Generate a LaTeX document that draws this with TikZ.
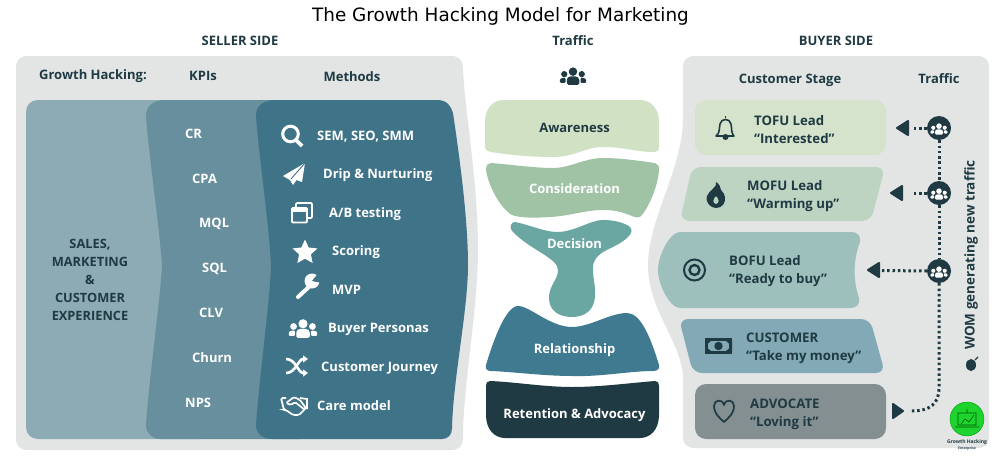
\documentclass[tikz,border=0pt]{standalone}
\usepackage{fontspec}
\setmainfont{Open Sans}
\newfontfamily\titlefont{DejaVu Sans}
\usetikzlibrary{arrows.meta,shapes.geometric}
\definecolor{ink}{HTML}{1F3A42}
\definecolor{panel}{HTML}{E3E5E5}
\definecolor{sa}{HTML}{8DABB5}
\definecolor{sb}{HTML}{678F9D}
\definecolor{sc}{HTML}{3F7388}
\definecolor{fa}{HTML}{D0E1C4}
\definecolor{fb}{HTML}{A0C3A6}
\definecolor{fc}{HTML}{6AA6A2}
\definecolor{fd}{HTML}{3F7A90}
\definecolor{fe}{HTML}{1F3A42}
\definecolor{ra}{HTML}{D5E3CC}
\definecolor{rb}{HTML}{BDD4C3}
\definecolor{rc}{HTML}{9EC0BC}
\definecolor{rd}{HTML}{82A9B5}
\definecolor{re}{HTML}{848F92}
\definecolor{logog}{HTML}{1DD32E}
\tikzset{
  hd/.style={font=\bfseries\fontsize{13}{15}\selectfont,text=ink,inner sep=0pt},
  wl/.style={font=\bfseries\fontsize{13}{15}\selectfont,text=white,inner sep=0pt,anchor=west},
  dl/.style={font=\bfseries\fontsize{13.2}{18}\selectfont,text=ink,inner sep=0pt,anchor=west,align=left},
  ctr/.style={font=\bfseries\fontsize{13}{15}\selectfont,inner sep=0pt},
  tc/.style={circle,fill=ink,minimum size=24pt,inner sep=0pt},
  dots/.style={ink,line width=3pt,dash pattern=on 2.5pt off 2.8pt},
  tri/.style={fill=ink,draw=ink,line width=2pt,line join=round},
}
% people icon: centre x,y ; scale ; colour
\newcommand\peopleico[4]{\begin{scope}[shift={(#1,#2)},scale=#3]
\fill[#4] (0,-3.5) circle (3.4);
\fill[#4] (-7,-1.5) circle (2.5);
\fill[#4] (7,-1.5) circle (2.5);
\fill[#4,rounded corners=1.5] (-5,7) -- (-5,2) -- (-3,0.3) -- (3,0.3) -- (5,2) -- (5,7) -- cycle;
\fill[#4,rounded corners=1] (-10.5,5.5) -- (-10.5,2.5) -- (-8.5,1.5) -- (-6,1.5) -- (-6,5.5) -- cycle;
\fill[#4,rounded corners=1] (10.5,5.5) -- (10.5,2.5) -- (8.5,1.5) -- (6,1.5) -- (6,5.5) -- cycle;
\end{scope}}
\begin{document}
\begin{tikzpicture}[x=1pt,y=-1pt]
\useasboundingbox (0,0) rectangle (1005,464);
\fill[white] (0,0) rectangle (1005,464);
\node[font=\titlefont\fontsize{18.4}{20}\selectfont,text=black,inner sep=0pt] (title) at (500.5,16) {The Growth Hacking Model for Marketing};
\node[hd] (sellerhd) at (240,41) {SELLER SIDE};
\node[hd] (traffichd) at (573,41) {Traffic};
\node[hd] (buyerhd) at (836,41) {BUYER SIDE};
% seller panel
\fill[panel] (28,56) -- (451,56) .. controls (459,56) and (463,60) .. (463,68) .. controls (464,105) and (478,180) .. (478,250) .. controls (478,310) and (463,385) .. (463,438) .. controls (463,446) and (459,450) .. (451,450) -- (28,450) .. controls (20,450) and (16,446) .. (16,438) -- (16,68) .. controls (16,60) and (20,56) .. (28,56) -- cycle;
\fill[sa] (38,100) -- (200,100) -- (200,439) -- (38,439) .. controls (31,439) and (26,434) .. (26,427) -- (26,112) .. controls (26,105) and (31,100) .. (38,100) -- cycle;
\fill[sb] (165,100) -- (300,100) -- (300,439) -- (160,439) .. controls (152,439) and (146,433) .. (146,425) .. controls (148,390) and (160,300) .. (162,267) .. controls (160,230) and (148,150) .. (146,115) .. controls (146,106) and (154,100) .. (165,100) -- cycle;
\fill[sc] (275,100) -- (437,100) .. controls (447,100) and (451,106) .. (453,113) .. controls (460,160) and (468,220) .. (468,265) .. controls (468,310) and (453,380) .. (452,428) .. controls (452,435) and (448,439) .. (442,439) -- (272,439) .. controls (262,439) and (256,433) .. (256,425) .. controls (258,390) and (270,300) .. (271,267) .. controls (270,230) and (258,150) .. (256,115) .. controls (256,106) and (264,100) .. (275,100) -- cycle;
\node[hd] (gh) at (93,76.5) {Growth Hacking:};
\node[hd] (kpis) at (203,75.5) {KPIs};
\node[hd] (methods) at (352,76.5) {Methods};
\node[hd,align=center,font=\bfseries\fontsize{12.8}{18}\selectfont] (sales) at (90,279.5) {SALES,\\MARKETING\\\&\\CUSTOMER\\EXPERIENCE};
\node[wl] (k1) at (185,134) {CR};
\node[wl] (k2) at (192,179) {CPA};
\node[wl] (k3) at (199,224) {MQL};
\node[wl] (k4) at (202,269) {SQL};
\node[wl] (k5) at (199,313) {CLV};
\node[wl] (k6) at (192,358) {Churn};
\node[wl] (k7) at (185,403) {NPS};
\node[wl] (m1) at (317,137) {SEM, SEO, SMM};
\node[wl] (m2) at (323,175) {Drip \& Nurturing};
\node[wl] (m3) at (329,214) {A/B testing};
\node[wl] (m4) at (332,252) {Scoring};
\node[wl] (m5) at (332,290) {MVP};
\node[wl] (m6) at (328,329) {Buyer Personas};
\node[wl] (m7) at (321,368) {Customer Journey};
\node[wl] (m8) at (317,406) {Care model};
% seller icons
\draw[white,line width=3pt] (290.5,134) circle (7.8);
\draw[white,line width=3.6pt] (296,140) -- (302,146);
\fill[white] (305,163) -- (283,176) -- (290,180) -- (293,185) -- (296.5,180) -- (302,182) -- cycle;
\draw[sc,line width=.9pt] (305,163) -- (291,179);
\draw[white,line width=1.6pt,rounded corners=1] (296,203) rectangle (312,218);
\fill[sc] (291,207) rectangle (307,223.5);
\draw[white,line width=1.8pt,rounded corners=1] (292,208) rectangle (307,222.5);
\fill[white] (292,208) rectangle (307,212);
\node[star,star points=5,star point ratio=2.1,fill=white,minimum size=26pt,inner sep=0pt] (staric) at (305,252.5) {};
\draw[white,line width=4pt,line cap=round] (298,297) -- (311,285);
\fill[white] (312,281) circle (7.5);
\fill[sc] (312,281) -- (320,271) -- (322,283) -- cycle;
\peopleico{303}{328.5}{1.35}{white}
\draw[white,line width=2.6pt,-{Triangle[length=5pt,width=7pt]}] (286,359) .. controls (296,359) and (298,373) .. (308,373);
\draw[white,line width=2.6pt,-{Triangle[length=5pt,width=7pt]}] (286,373) .. controls (296,373) and (298,359) .. (308,359);
\draw[white,line width=1.7pt,rounded corners=1.5] (286,398) -- (281,398) -- (284,410) -- (286,410) -- (293,415) -- (299,415) -- (306,408) -- (300,400) -- (294,397) -- (286,403) -- (291,405) -- (295,402) -- (305,410);
\draw[white,line width=1.7pt] (300,398) -- (307,399) -- (307,409);
% funnel
\fill[fa] (503,100) -- (640,100) .. controls (652,100) and (659,110) .. (659,122) -- (659,147) .. controls (659,151) and (657,152) .. (654,152) .. controls (635,152) and (625,147) .. (603,147) .. controls (585,147) and (575,157) .. (553,157) .. controls (530,157) and (510,155) .. (491,152) .. controls (487,151) and (485,150) .. (485,146) -- (485,122) .. controls (485,110) and (492,100) .. (503,100) -- cycle;
\fill[fb] (491,163) .. controls (515,165) and (535,168) .. (553,168) .. controls (570,168) and (585,158) .. (603,158) .. controls (622,158) and (640,161) .. (655,163) .. controls (658,164) and (659,166) .. (659,170) .. controls (658,185) and (650,205) .. (642,215) .. controls (640,218) and (636,218) .. (632,216) .. controls (622,212) and (615,210) .. (603,210) .. controls (585,210) and (570,216) .. (550,217) .. controls (535,218) and (520,218) .. (512,215) .. controls (500,208) and (488,185) .. (486,170) .. controls (486,165) and (488,163) .. (491,163) -- cycle;
\fill[fc] (515,222) .. controls (530,225) and (545,232) .. (557,232) .. controls (575,232) and (590,220) .. (603,220) .. controls (615,220) and (625,223) .. (630,227) .. controls (633,230) and (631,234) .. (628,237) .. controls (615,250) and (593,250) .. (593,268) .. controls (593,280) and (596,287) .. (595,297) .. controls (594,310) and (585,317) .. (572,317) .. controls (558,317) and (549,310) .. (549,298) .. controls (549,285) and (558,280) .. (558,270) .. controls (558,258) and (530,250) .. (512,231) .. controls (509,227) and (511,222) .. (515,222) -- cycle;
\fill[fd] (518,306) .. controls (530,306) and (550,327) .. (572,327) .. controls (590,327) and (610,313) .. (627,313) .. controls (640,313) and (650,335) .. (659,365) .. controls (660,369) and (657,371) .. (653,371) .. controls (630,371) and (600,377) .. (572,376) .. controls (545,376) and (515,372) .. (491,371) .. controls (487,371) and (485,369) .. (486,365) .. controls (492,345) and (505,306) .. (518,306) -- cycle;
\fill[fe] (490,381) .. controls (515,382) and (545,387) .. (572,387) .. controls (600,387) and (630,383) .. (655,381) .. controls (658,381) and (659,383) .. (659,386) -- (659,415) .. controls (659,430) and (650,438) .. (640,438) -- (505,438) .. controls (495,438) and (486,430) .. (486,415) -- (486,386) .. controls (486,383) and (487,381) .. (490,381) -- cycle;
\peopleico{573}{76}{1.25}{ink}
\node[ctr,text=ink] (s1) at (574.5,127.5) {Awareness};
\node[ctr,text=white] (s2) at (574.5,189) {Consideration};
\node[ctr,text=white] (s3) at (574.5,243.5) {Decision};
\node[ctr,text=white] (s4) at (574.5,350) {Relationship};
\node[ctr,text=white] (s5) at (574.5,415) {Retention \& Advocacy};
% buyer panel
\fill[panel] (695,56) -- (977,56) .. controls (985,56) and (989,60) .. (989,68) -- (989,436) .. controls (989,444) and (985,448) .. (977,448) -- (695,448) .. controls (687,448) and (683,444) .. (683,436) -- (683,375) .. controls (680,340) and (648,310) .. (648,265) .. controls (648,220) and (682,170) .. (683,120) -- (683,68) .. controls (683,60) and (687,56) .. (695,56) -- cycle;
\node[hd] (cs) at (790,80) {Customer Stage};
\node[hd] (tr) at (939,79) {Traffic};
% rows
\fill[ra,rounded corners=11pt] (695,100) rectangle (886,155);
\fill[rb,rounded corners=9pt] (692,167) -- (885,167) -- (871,221) -- (680,221) -- cycle;
\fill[rc] (680,232) -- (850,232) .. controls (858,232) and (861,236) .. (860,242) .. controls (853,260) and (853,280) .. (859,298) .. controls (860,304) and (857,308) .. (850,308) -- (680,308) .. controls (670,308) and (658,285) .. (658,270) .. controls (658,255) and (670,232) .. (680,232) -- cycle;
\fill[rd,rounded corners=9pt] (679,319) -- (870,319) -- (885,373) -- (693,373) -- cycle;
\fill[re,rounded corners=11pt] (695,384) rectangle (886,439);
\node[dl] (r1) at (754,130) {TOFU Lead\\“Interested”};
\node[dl] (r2) at (747,196) {MOFU Lead\\“Warming up”};
\node[dl] (r3) at (729,271.5) {BOFU Lead\\“Ready to buy”};
\node[dl] (r4) at (746,348.5) {CUSTOMER\\“Take my money”};
\node[dl] (r5) at (750,414) {ADVOCATE\\“Loving it”};
% row icons
\draw[ink,line width=1.6pt,line join=round] (716,136) .. controls (720,133) and (719,129) .. (720,124) .. controls (721,118) and (730,118) .. (731,124) .. controls (732,129) and (731,133) .. (734,136) -- cycle;
\draw[ink,line width=1.3pt] (725.5,118) -- (725.5,116);
\fill[ink] (722.5,137) arc (180:0:3) arc (0:-180:3);
\fill[ink,even odd rule] (716,182) .. controls (718,187) and (709,190) .. (707,196) .. controls (705,203) and (711,208) .. (716,208) .. controls (722,208) and (726,203) .. (725,197) .. controls (725,195) and (723,192) .. (721,190) .. controls (721,187) and (719,184) .. (716,182) -- cycle (716,196) .. controls (719,198) and (720,204) .. (716,204) .. controls (712,204) and (713,198) .. (716,196) -- cycle;
\draw[ink,line width=2pt] (694.5,270) circle (10.5);
\draw[ink,line width=2.4pt] (694.5,270) circle (5);
\fill[ink] (705,338) rectangle (732,354);
\fill[rd] (708,341) rectangle (729,351);
\fill[ink] (705,341) -- (711,341) -- (705,346) -- cycle (732,341) -- (726,341) -- (732,346) -- cycle (705,351) -- (711,351) -- (705,346) -- cycle (732,351) -- (726,351) -- (732,346) -- cycle;
\fill[ink] (718.5,346) circle (4.2);
\draw[ink,line width=1.7pt,line join=round] (724,422) .. controls (716,415) and (714,411) .. (714,406) .. controls (714,400) and (722,398) .. (724,405) .. controls (726,398) and (734,400) .. (734,406) .. controls (734,411) and (732,415) .. (724,422) -- cycle;
% traffic connectors
\node[tc] (t1) at (939,128) {};
\node[tc] (t2) at (939,193) {};
\node[tc] (t3) at (939,271) {};
\coordinate (a1) at (897,128);
\coordinate (a2) at (891,193);
\coordinate (a3) at (868,270);
\coordinate (a4) at (903,411);
\draw[dots] (t1) -- (t2);
\draw[dots] (t2) -- (t3);
\draw[dots] (t1.west) -- ++(-15,0) coordinate (b1);
\draw[dots] (t2.west) -- ++(-15,0) coordinate (b2);
\draw[dots] (t3.west) -- (882,270.5) coordinate (b3);
\draw[dots] (t3.south) -- (939,388) .. controls (939,404) and (930,411) .. (911,411) coordinate (b4);
\draw[tri] (a1) -- (908,121) -- (908,135) -- cycle;
\draw[tri] (a2) -- (902,186) -- (902,200) -- cycle;
\draw[tri] (a3) -- (879,263) -- (879,277) -- cycle;
\draw[tri] (a4) -- (893,404) -- (893,418) -- cycle;
\peopleico{939}{129}{.82}{white}
\peopleico{939}{194}{.82}{white}
\peopleico{939}{272}{.82}{white}
% WOM
\node[hd,rotate=90,anchor=west,font=\bfseries\fontsize{13.5}{15}\selectfont] (wom) at (971,350) {WOM generating new traffic};
\fill[ink] (971,365) ellipse (5 and 6);
\draw[ink,line width=1.3pt] (975,360) -- (978,357);
% logo
\node[circle,fill=logog,draw=green!60!black,line width=.4pt,minimum size=34pt,inner sep=0pt] (logo) at (967,419) {};
\draw[green!35!black,line width=.6pt] (958,425) rectangle (976,413) (955,427) -- (979,427) (967,413) -- (967,409) (961,424) -- (965,419) -- (969,422) -- (974,415);
\node[font=\bfseries\fontsize{5}{5}\selectfont,text=ink,inner sep=0pt] (logot) at (967,442) {Growth Hacking};
\node[font=\bfseries\fontsize{3.4}{4}\selectfont,text=ink,inner sep=0pt] (logos) at (967,449) {Enterprise};
\end{tikzpicture}
\end{document}
